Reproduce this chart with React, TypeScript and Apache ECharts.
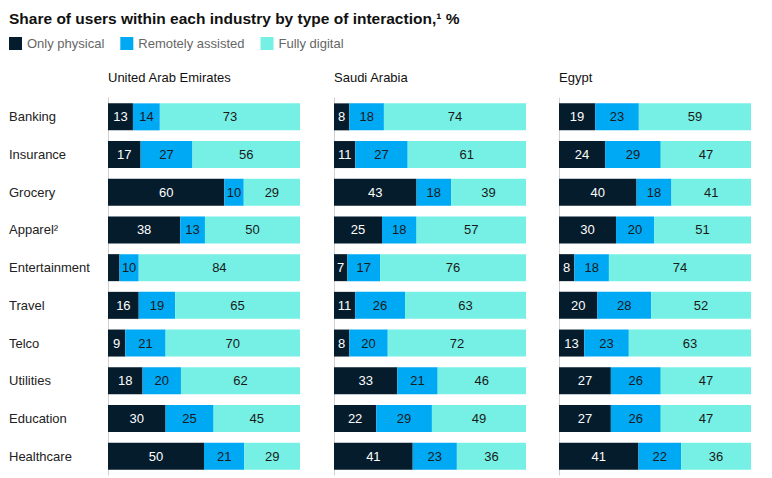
import React, { useEffect, useRef } from "react";
import * as echarts from "echarts";

const categories = [
  "Banking",
  "Insurance",
  "Grocery",
  "Apparel²",
  "Entertainment",
  "Travel",
  "Telco",
  "Utilities",
  "Education",
  "Healthcare",
];

const countries = ["United Arab Emirates", "Saudi Arabia", "Egypt"];
const seriesNames = ["Only physical", "Remotely assisted", "Fully digital"];

const uaePhysical = [13, 17, 60, 38, 6, 16, 9, 18, 30, 50];
const uaeRemote = [14, 27, 10, 13, 10, 19, 21, 20, 25, 21];
const uaeDigital = [73, 56, 29, 50, 84, 65, 70, 62, 45, 29];

const saPhysical = [8, 11, 43, 25, 7, 11, 8, 33, 22, 41];
const saRemote = [18, 27, 18, 18, 17, 26, 20, 21, 29, 23];
const saDigital = [74, 61, 39, 57, 76, 63, 72, 46, 49, 36];

const egPhysical = [19, 24, 40, 30, 8, 20, 13, 27, 27, 41];
const egRemote = [23, 29, 18, 20, 18, 28, 23, 26, 26, 22];
const egDigital = [59, 47, 41, 51, 74, 52, 63, 47, 47, 36];

const countryData = [
  [uaePhysical, uaeRemote, uaeDigital],
  [saPhysical, saRemote, saDigital],
  [egPhysical, egRemote, egDigital],
];

const colors = ["#051C2C", "#00A9F4", "#76F0E5"];
const labelColors = ["#ffffff", "#1a1a1a", "#1a1a1a"];
const FONT = "'Liberation Sans', Arial, sans-serif";

const gridLefts = [108, 334, 559];
const gridWidth = 192;

export default function App() {
  const ref = useRef<HTMLDivElement>(null);

  useEffect(() => {
    if (!ref.current) return;
    const chart = echarts.init(ref.current, null, { renderer: "svg" });

    const grids = gridLefts.map((left) => ({
      left,
      width: gridWidth,
      top: 98,
      height: 377,
      containLabel: false,
    }));

    const xAxes = gridLefts.map((_, i) => ({
      type: "value" as const,
      gridIndex: i,
      min: 0,
      max: 100,
      show: false,
    }));

    const yAxes = gridLefts.map((_, i) => ({
      type: "category" as const,
      gridIndex: i,
      data: categories,
      inverse: true,
      axisTick: { show: false },
      axisLine: { show: true, lineStyle: { color: "#d0d0d0", width: 1 } },
      axisLabel: {
        show: i === 0,
        align: "left" as const,
        margin: 99,
        fontFamily: FONT,
        fontSize: 13,
        color: "#222",
      },
    }));

    const series: any[] = [];
    countryData.forEach((rows, gi) => {
      const totals = categories.map((_, ci) => rows.reduce((s, r) => s + r[ci], 0));
      rows.forEach((vals, si) => {
        series.push({
          type: "bar",
          name: seriesNames[si],
          xAxisIndex: gi,
          yAxisIndex: gi,
          stack: "share" + gi,
          barWidth: 27,
          itemStyle: { color: colors[si] },
          label: {
            show: true,
            position: "inside",
            fontFamily: FONT,
            fontSize: 13,
            color: labelColors[si],
            formatter: (p: any) => {
              const raw = vals[p.dataIndex];
              return raw >= 7 ? String(raw) : "";
            },
          },
          // 100% stacked: each segment is its share of the row total
          data: vals.map((v, ci) => (v / totals[ci]) * 100),
        });
      });
    });

    chart.setOption({
      animation: false,
      color: colors,
      title: [
        {
          text: "Share of users within each industry by type of interaction,¹ %",
          left: 9,
          top: 10,
          padding: 0,
          textStyle: { fontFamily: FONT, fontSize: 15.5, fontWeight: "bold", color: "#111" },
        },
        ...countries.map((c, i) => ({
          text: c,
          left: gridLefts[i],
          top: 71,
          padding: 0,
          textStyle: { fontFamily: FONT, fontSize: 13, fontWeight: "normal", color: "#111" },
        })),
      ],
      legend: {
        data: seriesNames,
        left: 9,
        top: 37,
        padding: 0,
        icon: "rect",
        itemWidth: 13,
        itemHeight: 13,
        itemGap: 16,
        textStyle: { fontFamily: FONT, fontSize: 13, color: "#666" },
      },
      grid: grids,
      xAxis: xAxes,
      yAxis: yAxes,
      series,
    });

    return () => chart.dispose();
  }, []);

  return <div ref={ref} style={{ width: 772, height: 478, marginLeft: -8, marginTop: -8 }} />;
}
